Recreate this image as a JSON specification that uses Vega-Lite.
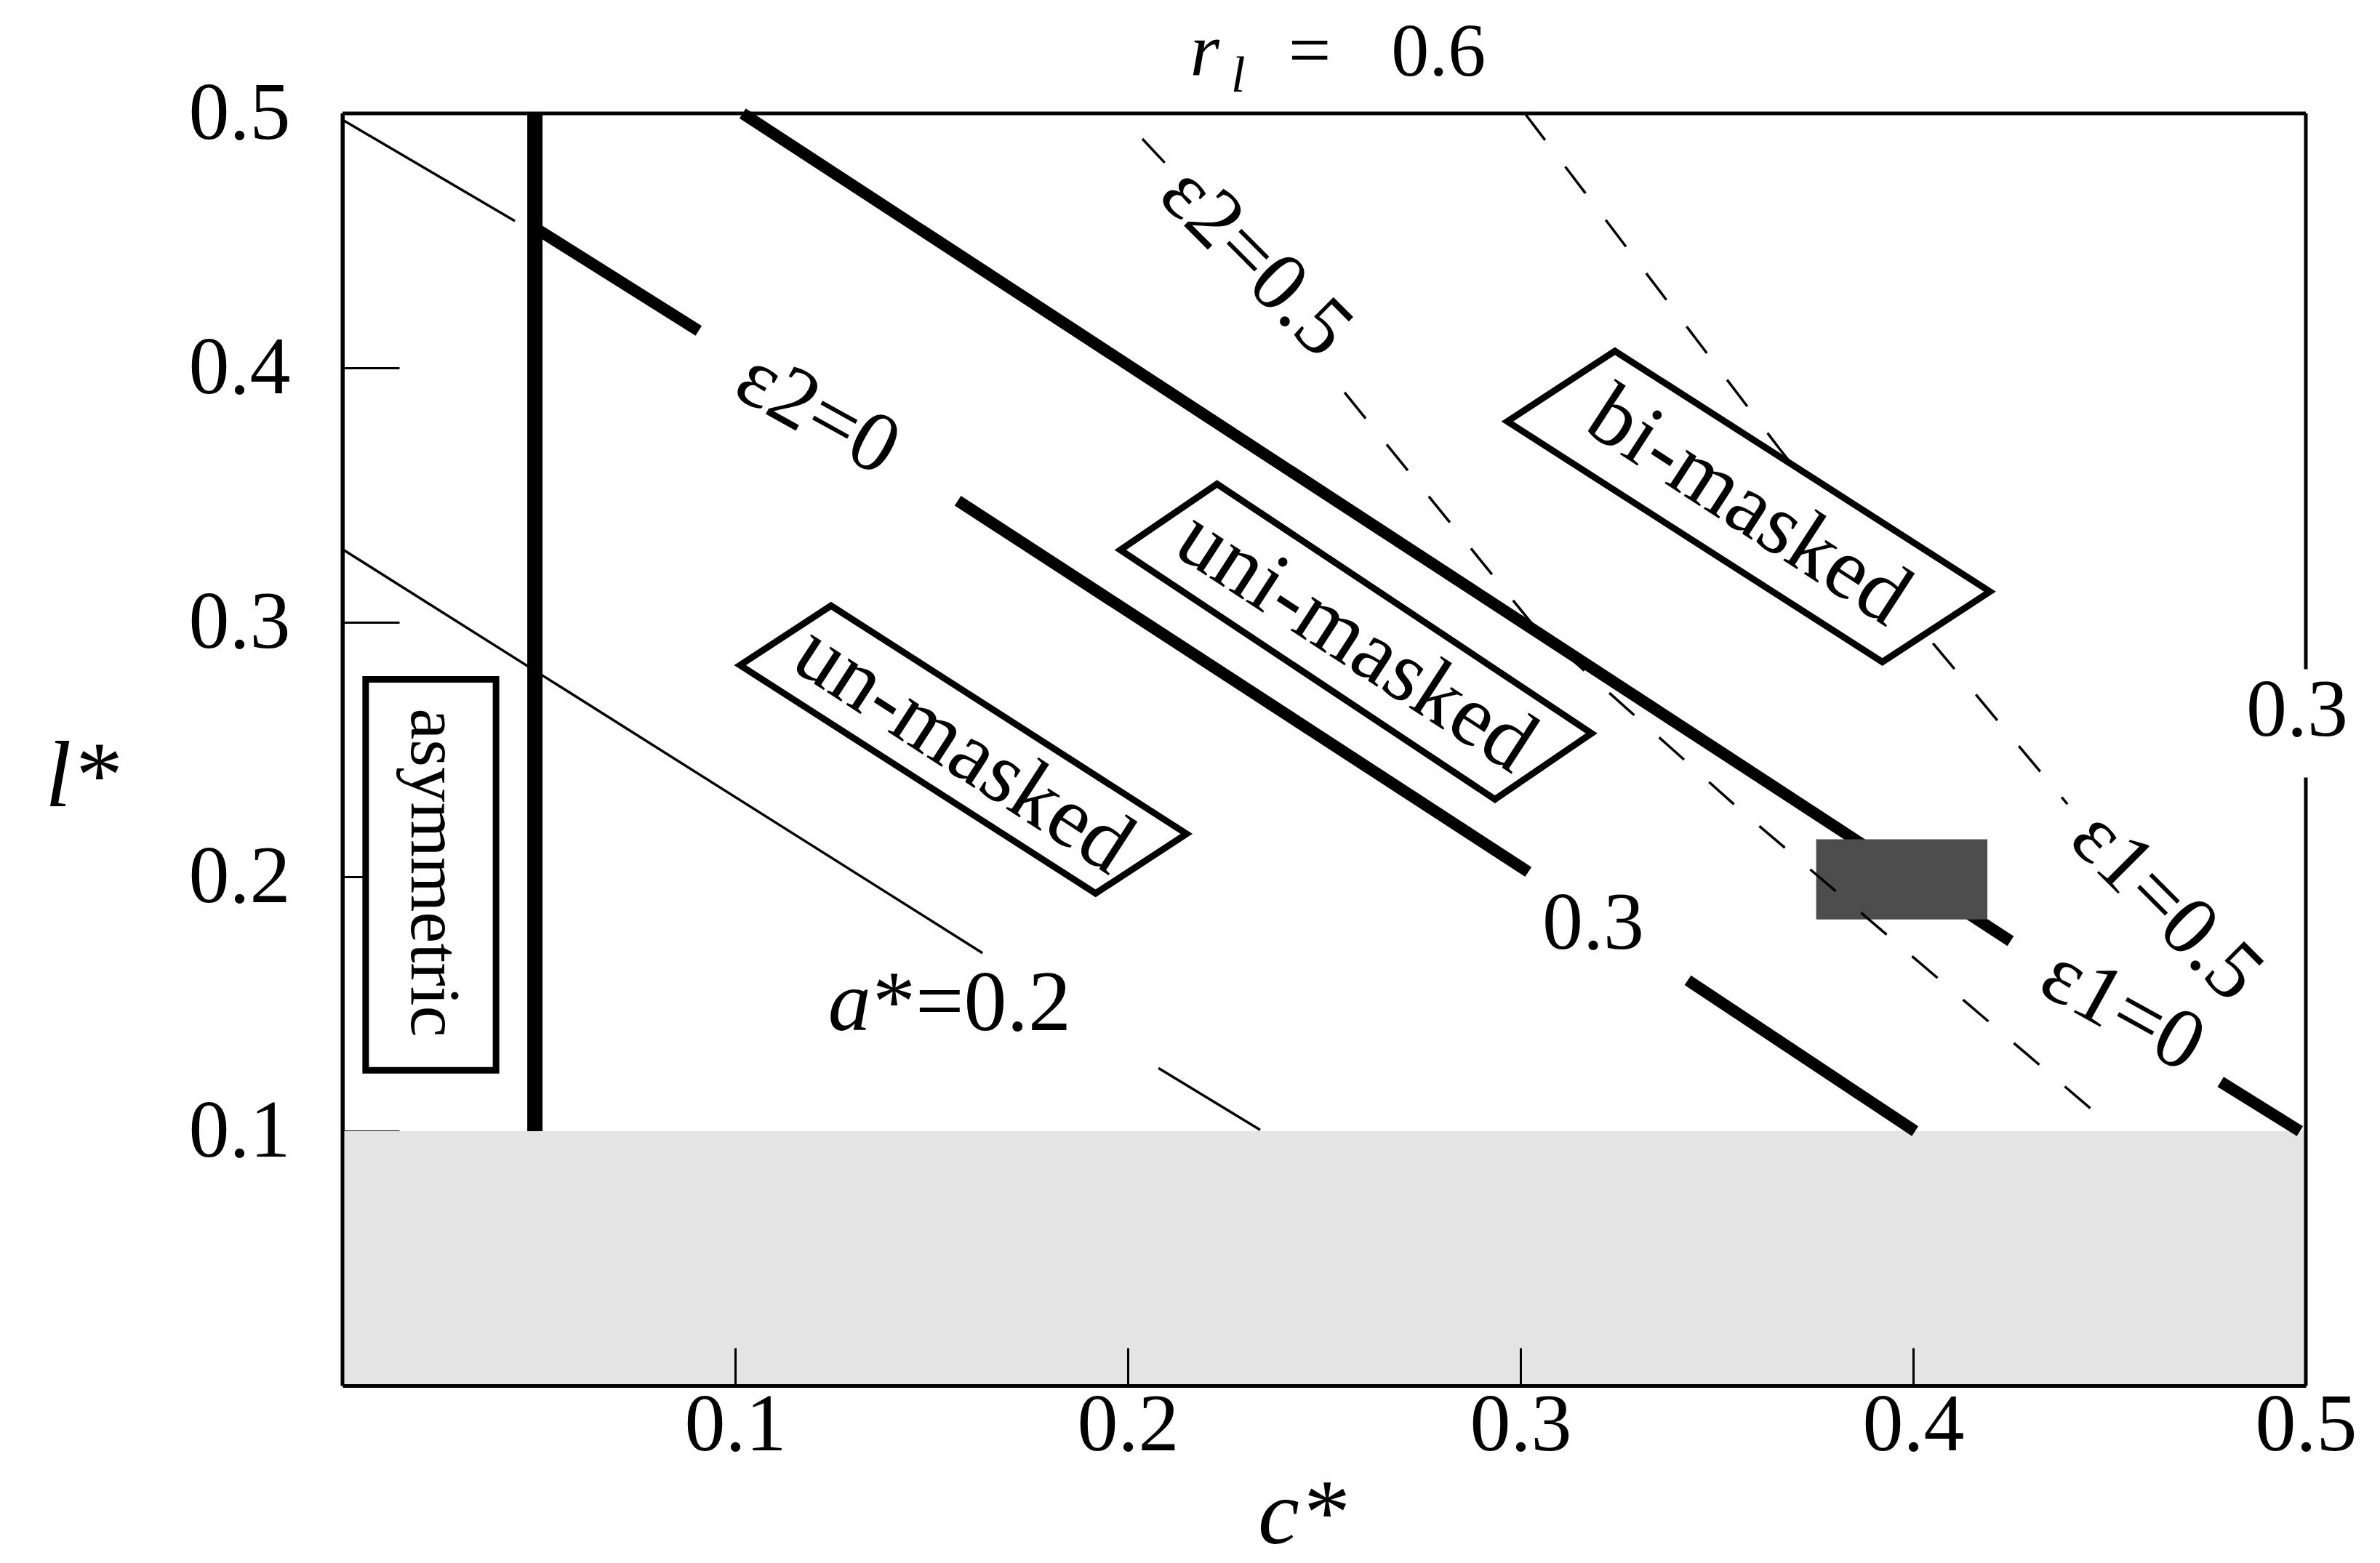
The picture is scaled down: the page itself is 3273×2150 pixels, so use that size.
{
  "$schema": "https://vega.github.io/schema/vega-lite/v6.json",
  "width": 2700,
  "height": 1750,
  "autosize": {"type": "none"},
  "padding": {"left": 471, "top": 156, "right": 102, "bottom": 244},
  "background": "white",
  "config": {"view": {"stroke": null}},
  "datasets": {
    "band": [{"c": 0, "c2": 0.5, "l": 0, "l2": 0.1}],
    "thin": [
      {"seg": "corner", "c": 0, "l": 0.4975}, {"seg": "corner", "c": 0.0439, "l": 0.4577},
      {"seg": "a1", "c": 0, "l": 0.3287}, {"seg": "a1", "c": 0.163, "l": 0.17},
      {"seg": "a2", "c": 0.2078, "l": 0.1248}, {"seg": "a2", "c": 0.2337, "l": 0.1005}
    ],
    "thick": [
      {"seg": "e2-1", "c": 0.0485, "l": 0.4555}, {"seg": "e2-1", "c": 0.0907, "l": 0.4146},
      {"seg": "e2-2", "c": 0.1567, "l": 0.3478}, {"seg": "e2-2", "c": 0.302, "l": 0.2019},
      {"seg": "e2-3", "c": 0.3426, "l": 0.1593}, {"seg": "e2-3", "c": 0.4005, "l": 0.1},
      {"seg": "e1-1", "c": 0.1019, "l": 0.5}, {"seg": "e1-1", "c": 0.4248, "l": 0.1747},
      {"seg": "e1-2", "c": 0.4783, "l": 0.1194}, {"seg": "e1-2", "c": 0.4985, "l": 0.1}
    ],
    "vert": [{"c": 0.049, "l": 0.1, "l2": 0.5}],
    "dark": [{"c": 0.3753, "c2": 0.4189, "l": 0.1832, "l2": 0.2147}],
    "dashed": [
      {"seg": "d1a", "c": 0.2037, "l": 0.49}, {"seg": "d1a", "c": 0.2094, "l": 0.4806},
      {"seg": "d1b", "c": 0.2552, "l": 0.3903}, {"seg": "d1b", "c": 0.303, "l": 0.2993},
      {"seg": "d1b", "c": 0.355, "l": 0.2276}, {"seg": "d1b", "c": 0.4509, "l": 0.1014},
      {"seg": "d2", "c": 0.3011, "l": 0.5}, {"seg": "d2", "c": 0.3657, "l": 0.3687},
      {"seg": "d2", "c": 0.4041, "l": 0.2935}, {"seg": "d2", "c": 0.4393, "l": 0.2285}
    ],
    "asym": [{"c": 0.0059, "c2": 0.0391, "l": 0.1239, "l2": 0.2776}],
    "boxBi": [{"c": 0.3581, "l": 0.3455}],
    "boxUni": [{"c": 0.2581, "l": 0.2924}],
    "boxUn": [{"c": 0.1581, "l": 0.25}],
    "labH": [
      {"c": 0.3185, "l": 0.1716, "t": "0.3"},
      {"c": 0.4978, "l": 0.2553, "t": "0.3"}
    ],
    "labAstar": [{"c": 0.1350, "l": 0.1396, "t": "*=0.2"}],
    "labTop": [
      {"c": 0.2463, "l": 0.5149, "t": "="},
      {"c": 0.2791, "l": 0.5149, "t": "0.6"}
    ],
    "labTopI": [{"c": 0.2196, "l": 0.5149, "t": "r"}],
    "labI": [{"c": 0.1291, "l": 0.1396, "t": "a"}],
    "labSub": [{"c": 0.2281, "l": 0.5085, "t": "l"}],
    "labBox": [
      {"c": 0.3581, "l": 0.3455, "t": "bi-masked"},
      {"c": 0.2581, "l": 0.2924, "t": "uni-masked"},
      {"c": 0.1581, "l": 0.25, "t": "un-masked"}
    ],
    "labE30": [
      {"c": 0.121, "l": 0.382, "t": "ε2=0"},
      {"c": 0.4533, "l": 0.1476, "t": "ε1=0"}
    ],
    "labE45": [
      {"c": 0.2326, "l": 0.4417, "t": "ε2=0.5"},
      {"c": 0.4645, "l": 0.1885, "t": "ε1=0.5"}
    ],
    "labV": [{"c": 0.023, "l": 0.2016, "t": "asymmetric"}],
    "frameTop": [{"c": 0, "c2": 0.5, "l": 0.5}],
    "frameRight": [{"c": 0.5, "l": 0.2816, "l2": 0.5}, {"c": 0.5, "l": 0, "l2": 0.239}],
    "frameLeft": [{"c": 0, "l": 0, "l2": 0.5}]
  },
  "encoding": {
    "x": {
      "field": "c", "type": "quantitative",
      "scale": {"domain": [0, 0.5], "nice": false, "zero": false},
      "axis": {
        "values": [0.1, 0.2, 0.3, 0.4, 0.5], "format": ".1f", "title": "c*", "zindex": 1,
        "grid": false, "domainColor": "black", "domainWidth": 5,
        "tickColor": "black", "tickWidth": 3, "tickSize": -52,
        "labelFont": "Liberation Serif", "labelFontSize": 112, "labelColor": "black",
        "labelPadding": 52, "labelDx": -20, "labelOverlap": false, "labelFlush": false, "labelBound": false,
        "titleFont": "Liberation Serif", "titleFontSize": 128, "titleFontStyle": "italic", "titleFontWeight": "normal",
        "titleColor": "black", "titleX": 1319, "titleY": 216, "titleAlign": "center", "titleBaseline": "alphabetic", "titleAngle": 0
      }
    },
    "y": {
      "field": "l", "type": "quantitative",
      "scale": {"domain": [0, 0.5], "nice": false, "zero": false},
      "axis": {
        "values": [0.1, 0.2, 0.3, 0.4, 0.5], "format": ".1f", "title": "l*",
        "grid": false, "domainColor": "black", "domainWidth": 5,
        "tickColor": "black", "tickWidth": 3, "tickSize": -78,
        "labelFont": "Liberation Serif", "labelFontSize": 112, "labelColor": "black",
        "labelPadding": 150, "labelOverlap": false, "labelFlush": false, "labelBound": false,
        "titleFont": "Liberation Serif", "titleFontSize": 130, "titleFontStyle": "italic", "titleFontWeight": "normal",
        "titleColor": "black", "titleX": -359, "titleY": 952, "titleAlign": "center", "titleBaseline": "alphabetic", "titleAngle": 0
      }
    }
  },
  "layer": [
    {"data": {"name": "band"}, "mark": {"type": "rect", "color": "#e4e4e4"},
     "encoding": {"x2": {"field": "c2"}, "y2": {"field": "l2"}}},
    {"data": {"name": "thin"}, "mark": {"type": "line", "color": "black", "strokeWidth": 3.5},
     "encoding": {"detail": {"field": "seg", "type": "nominal"}}},
    {"data": {"name": "thick"}, "mark": {"type": "line", "color": "black", "strokeWidth": 16, "strokeCap": "butt"},
     "encoding": {"detail": {"field": "seg", "type": "nominal"}}},
    {"data": {"name": "vert"}, "mark": {"type": "rule", "color": "black", "strokeWidth": 21},
     "encoding": {"y2": {"field": "l2"}}},
    {"data": {"name": "dark"}, "mark": {"type": "rect", "color": "#4d4d4d"},
     "encoding": {"x2": {"field": "c2"}, "y2": {"field": "l2"}}},
    {"data": {"name": "dashed"}, "mark": {"type": "line", "color": "black", "strokeWidth": 3.5, "strokeDash": [46, 46]},
     "encoding": {"detail": {"field": "seg", "type": "nominal"}}},
    {"data": {"name": "asym"}, "mark": {"type": "rect", "fill": "white", "stroke": "black", "strokeWidth": 9},
     "encoding": {"x2": {"field": "c2"}, "y2": {"field": "l2"}}},
    {"data": {"name": "boxBi"}, "mark": {"type": "point", "filled": true, "fill": "white", "stroke": "black", "strokeWidth": 9, "opacity": 1, "size": 462400, "shape": "M-0.976,-0.344L-0.541,-0.629L0.976,0.344L0.541,0.629Z"}},
    {"data": {"name": "boxUni"}, "mark": {"type": "point", "filled": true, "fill": "white", "stroke": "black", "strokeWidth": 9, "opacity": 1, "size": 462400, "shape": "M-0.953,-0.371L-0.562,-0.638L0.953,0.371L0.562,0.638Z"}},
    {"data": {"name": "boxUn"}, "mark": {"type": "point", "filled": true, "fill": "white", "stroke": "black", "strokeWidth": 9, "opacity": 1, "size": 462400, "shape": "M-0.903,-0.341L-0.535,-0.582L0.903,0.341L0.535,0.582Z"}},
    {"data": {"name": "labH"}, "mark": {"type": "text", "font": "Liberation Serif", "fontSize": 112, "color": "black", "align": "center", "baseline": "alphabetic"},
     "encoding": {"text": {"field": "t"}}},
    {"data": {"name": "labAstar"}, "mark": {"type": "text", "font": "Liberation Serif", "fontSize": 118, "color": "black", "align": "left", "baseline": "alphabetic"},
     "encoding": {"text": {"field": "t"}}},
    {"data": {"name": "labTop"}, "mark": {"type": "text", "font": "Liberation Serif", "fontSize": 104, "color": "black", "align": "center", "baseline": "alphabetic"},
     "encoding": {"text": {"field": "t"}}},
    {"data": {"name": "labTopI"}, "mark": {"type": "text", "font": "Liberation Serif", "fontSize": 104, "fontStyle": "italic", "color": "black", "align": "center", "baseline": "alphabetic"},
     "encoding": {"text": {"field": "t"}}},
    {"data": {"name": "labI"}, "mark": {"type": "text", "font": "Liberation Serif", "fontSize": 118, "fontStyle": "italic", "color": "black", "align": "center", "baseline": "alphabetic"},
     "encoding": {"text": {"field": "t"}}},
    {"data": {"name": "labSub"}, "mark": {"type": "text", "font": "Liberation Serif", "fontSize": 70, "fontStyle": "italic", "color": "black", "align": "center", "baseline": "alphabetic"},
     "encoding": {"text": {"field": "t"}}},
    {"data": {"name": "labBox"}, "mark": {"type": "text", "font": "Liberation Serif", "fontSize": 120, "color": "black", "align": "center", "baseline": "middle", "angle": 33},
     "encoding": {"text": {"field": "t"}}},
    {"data": {"name": "labE30"}, "mark": {"type": "text", "font": "Liberation Serif", "fontSize": 118, "color": "black", "align": "center", "baseline": "middle", "angle": 29},
     "encoding": {"text": {"field": "t"}}},
    {"data": {"name": "labE45"}, "mark": {"type": "text", "font": "Liberation Serif", "fontSize": 116, "color": "black", "align": "center", "baseline": "middle", "angle": 45},
     "encoding": {"text": {"field": "t"}}},
    {"data": {"name": "labV"}, "mark": {"type": "text", "font": "Liberation Serif", "fontSize": 97, "color": "black", "align": "center", "baseline": "middle", "angle": 90},
     "encoding": {"text": {"field": "t"}}},
    {"data": {"name": "frameTop"}, "mark": {"type": "rule", "color": "black", "strokeWidth": 5},
     "encoding": {"x2": {"field": "c2"}}},
    {"data": {"name": "frameRight"}, "mark": {"type": "rule", "color": "black", "strokeWidth": 5},
     "encoding": {"y2": {"field": "l2"}}},
    {"data": {"name": "frameLeft"}, "mark": {"type": "rule", "color": "black", "strokeWidth": 5},
     "encoding": {"y2": {"field": "l2"}}}
  ]
}
